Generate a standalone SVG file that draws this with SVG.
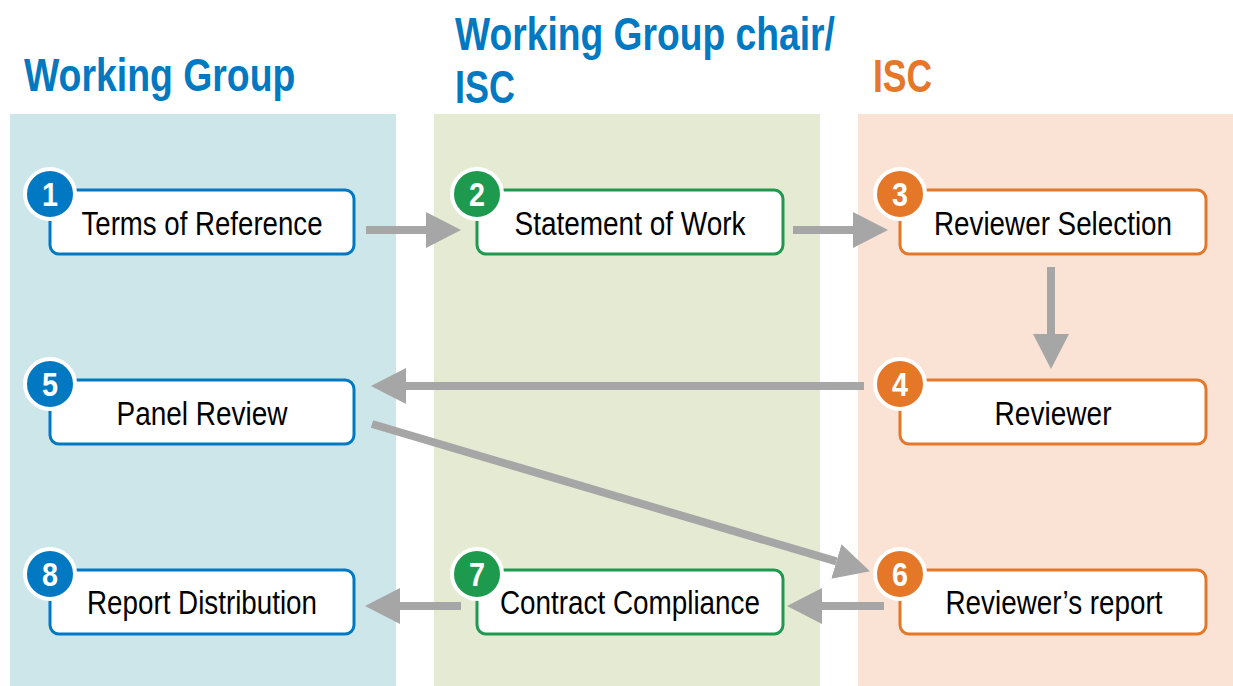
<svg xmlns="http://www.w3.org/2000/svg" width="1233" height="686" viewBox="0 0 1233 686">
<style>
.title{font-family:"Liberation Sans",Arial,sans-serif;font-weight:bold;font-size:46px}
.lbl{font-family:"Liberation Sans Narrow","Liberation Sans",Arial,sans-serif;font-size:33px;fill:#000;text-anchor:middle}
.num{font-family:"Liberation Sans Narrow","Liberation Sans",Arial,sans-serif;font-weight:bold;font-size:33px;fill:#fff;text-anchor:middle}
.box{fill:#fff;stroke-width:3}
.badge{stroke:#fff;stroke-width:4}
.blue .box{stroke:#0079C2}.blue .badge{fill:#0079C2}
.green .box{stroke:#1E9A4E}.green .badge{fill:#1E9A4E}
.orange .box{stroke:#E57828}.orange .badge{fill:#E57828}
.conn line{stroke:#A6A6A6;stroke-width:8;fill:none;marker-end:url(#ah)}
</style>
<defs>
<marker id="ah" markerUnits="userSpaceOnUse" markerWidth="36" markerHeight="38" refX="0" refY="19" orient="auto" viewBox="0 0 36 38">
<path d="M0,1 L35,19 L0,37 z" fill="#A6A6A6"/>
</marker>
</defs>
<rect width="1233" height="686" fill="#fff"/>
<g id="lanes">
<rect x="10" y="114" width="386" height="572" fill="#CCE6EA"/>
<rect x="434" y="114" width="386" height="572" fill="#E5EBD3"/>
<rect x="858" y="114" width="375" height="572" fill="#FAE2D4"/>
</g>
<g id="titles">
<text class="title" transform="translate(24,91) scale(0.81,1)" fill="#0079C2" textLength="335" lengthAdjust="spacingAndGlyphs">Working Group</text>
<text class="title" transform="translate(455,50) scale(0.81,1)" fill="#0079C2" textLength="469" lengthAdjust="spacingAndGlyphs">Working Group chair/</text>
<text class="title" transform="translate(455,103) scale(0.81,1)" fill="#0079C2" textLength="74" lengthAdjust="spacingAndGlyphs">ISC</text>
<text class="title" transform="translate(873,92) scale(0.81,1)" fill="#E57828" textLength="73" lengthAdjust="spacingAndGlyphs">ISC</text>
</g>
<g id="connectors" class="conn">
<line x1="366" y1="230" x2="426" y2="230"/>
<line x1="793" y1="230" x2="853" y2="230"/>
<line x1="1051" y1="267" x2="1051" y2="334"/>
<line x1="864" y1="386" x2="406" y2="386"/>
<line x1="372" y1="424" x2="836.4" y2="561.4"/>
<line x1="884" y1="606" x2="822" y2="606"/>
<line x1="461" y1="606" x2="400" y2="606"/>
</g>
<g id="node1" class="blue">
<rect class="box" x="50" y="190" width="304" height="64" rx="9"/>
<circle class="badge" cx="50" cy="194" r="25"/>
<text class="num" x="50" y="206" textLength="16" lengthAdjust="spacingAndGlyphs">1</text>
<text class="lbl" x="202" y="235" textLength="241" lengthAdjust="spacingAndGlyphs">Terms of Reference</text>
</g>
<g id="node2" class="green">
<rect class="box" x="477" y="190" width="306" height="64" rx="9"/>
<circle class="badge" cx="477" cy="194" r="25"/>
<text class="num" x="477" y="206" textLength="16" lengthAdjust="spacingAndGlyphs">2</text>
<text class="lbl" x="630" y="235" textLength="231" lengthAdjust="spacingAndGlyphs">Statement of Work</text>
</g>
<g id="node3" class="orange">
<rect class="box" x="900" y="190" width="306" height="64" rx="9"/>
<circle class="badge" cx="900" cy="194" r="25"/>
<text class="num" x="900" y="206" textLength="16" lengthAdjust="spacingAndGlyphs">3</text>
<text class="lbl" x="1053" y="235" textLength="238" lengthAdjust="spacingAndGlyphs">Reviewer Selection</text>
</g>
<g id="node4" class="orange">
<rect class="box" x="900" y="380" width="306" height="64" rx="9"/>
<circle class="badge" cx="900" cy="384" r="25"/>
<text class="num" x="900" y="396" textLength="16" lengthAdjust="spacingAndGlyphs">4</text>
<text class="lbl" x="1053" y="425" textLength="117" lengthAdjust="spacingAndGlyphs">Reviewer</text>
</g>
<g id="node5" class="blue">
<rect class="box" x="50" y="380" width="304" height="64" rx="9"/>
<circle class="badge" cx="50" cy="384" r="25"/>
<text class="num" x="50" y="396" textLength="16" lengthAdjust="spacingAndGlyphs">5</text>
<text class="lbl" x="202" y="425" textLength="171" lengthAdjust="spacingAndGlyphs">Panel Review</text>
</g>
<g id="node6" class="orange">
<rect class="box" x="900" y="570" width="306" height="64" rx="9"/>
<circle class="badge" cx="900" cy="574" r="25"/>
<text class="num" x="900" y="586" textLength="16" lengthAdjust="spacingAndGlyphs">6</text>
<text class="lbl" x="1054" y="614" textLength="217" lengthAdjust="spacingAndGlyphs">Reviewer’s report</text>
</g>
<g id="node7" class="green">
<rect class="box" x="477" y="570" width="306" height="64" rx="9"/>
<circle class="badge" cx="477" cy="574" r="25"/>
<text class="num" x="477" y="586" textLength="16" lengthAdjust="spacingAndGlyphs">7</text>
<text class="lbl" x="630" y="614" textLength="260" lengthAdjust="spacingAndGlyphs">Contract Compliance</text>
</g>
<g id="node8" class="blue">
<rect class="box" x="50" y="570" width="304" height="64" rx="9"/>
<circle class="badge" cx="50" cy="574" r="25"/>
<text class="num" x="50" y="586" textLength="16" lengthAdjust="spacingAndGlyphs">8</text>
<text class="lbl" x="202" y="614" textLength="230" lengthAdjust="spacingAndGlyphs">Report Distribution</text>
</g>
</svg>
